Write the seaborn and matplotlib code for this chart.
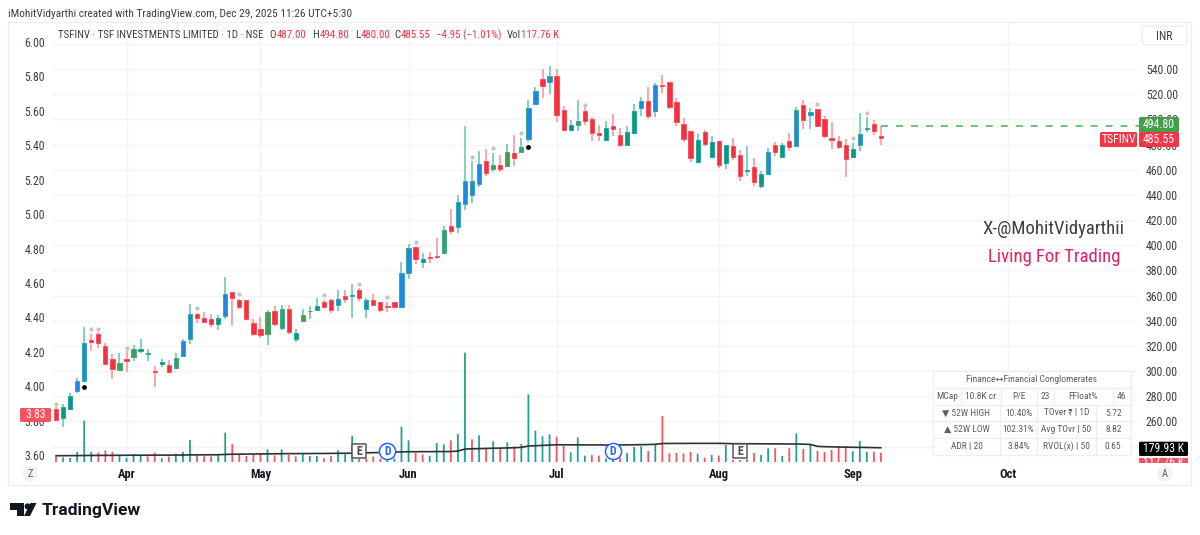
import matplotlib
matplotlib.use("Agg")
import matplotlib.pyplot as plt
from matplotlib import font_manager as fm
from matplotlib.patches import Rectangle, FancyBboxPatch, Circle, Polygon
import numpy as np
import pandas as pd
import seaborn as sns

# Daily session data for TSFINV (INR, volume in thousands)
opens = [269.6,262.4,269.6,284.1,292.3,324.7,329.4,319.9,309.8,300.8,
         309.3,310.9,316.2,313.8,300.0,305.6,304.5,302.4,312.2,325.4,
         345.1,342.4,341.1,337.6,344.0,362.5,356.7,356.2,337.9,333.1,
         329.4,347.4,333.9,349.3,325.4,340.0,347.4,348.8,354.9,356.2,
         352.2,359.6,359.4,364.7,349.6,356.2,354.6,351.4,354.6,351.2,
         377.6,398.3,386.9,390.6,391.4,394.0,415.0,414.7,432.7,439.6,
         448.3,466.6,460.8,463.4,462.9,473.2,473.8,484.4,512.5,531.8,
         529.7,534.4,507.4,491.5,495.8,506.9,500.0,489.1,483.3,495.0,
         487.3,479.3,488.9,509.3,514.3,506.9,527.3,529.7,513.8,496.3,
         490.7,466.1,490.2,470.3,482.5,465.3,479.0,471.7,459.2,462.4,
         447.0,456.3,479.6,469.8,482.5,478.8,511.1,503.4,508.0,500.0,
         484.9,482.8,479.6,470.3,479.6,492.6,496.6,487.0]
highs = [271.7,274.1,282.3,294.2,334.7,329.4,331.3,322.5,313.5,314.1,
         315.9,320.4,325.2,317.2,304.0,309.3,308.8,314.6,325.7,353.5,
         346.4,347.2,345.1,344.5,375.0,362.5,357.5,356.2,341.1,342.7,
         348.5,351.7,352.5,352.5,333.4,349.3,351.7,357.8,356.5,357.0,
         364.4,364.4,369.2,365.7,357.8,361.0,355.1,355.1,354.9,386.9,
         400.7,398.8,394.0,394.6,405.7,415.2,428.7,439.9,495.0,466.6,
         474.8,476.7,473.5,471.7,480.1,487.5,484.9,515.4,526.0,539.7,
         542.4,539.7,510.6,499.5,515.1,510.0,502.1,495.5,498.7,504.0,
         493.4,495.0,511.9,517.7,525.4,529.1,535.2,529.7,517.0,501.1,
         490.7,488.1,491.8,487.0,482.8,479.6,484.9,475.6,478.8,469.3,
         458.7,476.9,481.7,480.9,489.1,510.1,515.4,508.7,508.0,502.6,
         497.9,487.0,484.1,481.2,504.8,501.6,499.2,494.8]
lows = [260.3,255.8,269.0,282.8,291.5,316.2,318.3,304.8,293.4,300.0,
        299.5,308.2,314.6,308.0,287.6,302.9,298.2,301.9,311.9,321.5,
        338.4,338.4,335.3,332.6,341.4,335.8,349.0,340.3,328.1,326.3,
        320.7,335.8,332.6,329.2,323.1,339.8,341.4,348.0,349.8,346.4,
        347.4,354.3,342.4,355.4,342.4,351.7,347.2,346.9,350.6,350.6,
        373.1,385.0,381.9,386.1,388.7,393.5,408.9,409.4,427.9,433.2,
        446.2,455.0,458.1,458.4,462.1,462.9,473.2,482.3,512.2,516.7,
        520.1,498.1,490.7,490.5,491.0,495.8,482.8,482.8,482.8,487.0,
        478.3,479.1,488.3,502.9,500.3,502.1,520.7,508.2,495.0,481.7,
        466.1,465.3,479.1,469.8,461.3,460.8,468.0,451.3,455.0,447.3,
        445.7,456.0,470.9,469.5,475.1,478.3,492.3,492.0,494.4,485.4,
        476.2,476.2,454.2,470.0,475.1,489.7,487.3,480.0]
closes = [261.1,271.4,280.2,292.1,322.0,323.1,322.3,305.6,301.3,306.1,
          308.2,317.2,317.2,314.3,299.2,307.2,299.2,310.3,323.9,345.1,
          342.4,339.2,337.1,341.9,361.2,358.0,350.9,341.1,329.2,328.6,
          347.2,337.4,349.3,331.0,330.0,344.8,348.0,351.7,350.6,348.5,
          357.0,357.5,360.2,358.0,356.2,352.5,348.5,350.9,351.2,377.6,
          397.7,388.7,388.7,389.5,390.9,412.3,411.2,434.3,451.3,451.3,
          464.5,457.3,463.4,460.8,473.8,469.5,478.0,509.0,522.2,526.5,
          534.4,503.2,491.5,495.5,498.7,499.0,488.9,487.8,492.8,492.6,
          479.6,489.7,506.9,514.3,502.6,527.0,526.8,509.8,497.9,484.6,
          469.3,483.8,480.4,482.3,463.7,479.6,470.3,455.0,459.7,450.2,
          456.6,474.3,474.0,479.6,477.7,507.4,499.5,505.6,495.0,486.5,
          483.6,477.7,468.2,476.2,488.6,493.1,490.5,485.55]
# r = falling, t = rising, b = strong rising, g = rising on high relative volume
candle_kinds = list("rttbbrrrrg" "rgttrtrgbb" "rrrtbrrrrr" "grgrtgttrr"
                    "brtrbrrrrb" "brtrrgrbbb" "brgrgrgbbr" "brrtgrrrtr"
                    "rttbrbrrrr" "rtrtrtrrtr" "tbrtrbrbrr" "rrrtbtrr")
volumes_k = [80,59,51,127,523,127,118,148,127,84,
             55,101,84,72,118,46,68,105,127,279,
             84,72,72,93,371,228,93,76,89,97,
             160,84,160,89,72,110,76,76,46,76,
             148,97,329,46,46,68,42,42,46,447,
             274,114,97,80,241,224,274,354,1384,287,
             338,169,262,173,249,198,228,857,397,325,
             350,321,203,122,312,80,89,80,46,25,
             55,114,190,198,139,224,582,110,114,110,
             127,105,55,89,80,215,25,25,34,114,
             89,173,173,76,173,363,165,224,139,127,
             152,194,203,135,266,131,131,117.76]
volume_kinds = list("rtttttrrrttttrrtrtttrrrttrrrr" "rtrtrrtttrrtttrrrrtt"
                    "ttrrtttrttrtrtrtrttttt" "rrtttrrttrtttrt"
                    "rrrrrtrtrtrrtrttrtrtrtrrrrrtttrr")
avg_volume_k = [80,80,81,81,82,83,83,84,84,85,
                85,86,86,86,87,87,87,88,88,90,
                90,91,91,92,96,98,99,100,101,102,
                103,104,105,106,106,107,107,108,108,109,
                110,110,112,114,116,118,120,122,125,128,
                130,130,131,131,132,132,133,138,164,167,
                169,172,174,176,178,181,185,202,206,210,
                214,218,218,217,217,216,216,216,215,215,
                216,216,218,219,221,224,234,235,235,235,
                236,236,236,236,236,234,232,232,231,231,
                230,230,229,229,228,228,226,222,198,194,
                192,190,188,186,185,184,182,179.93]

# Sessions flagged by the two marker studies
star_days = [0,5,6,10,20,26,38,43,47,51,59,62,66,75,108,113,115]
star_prices = [273.8,333.4,333.4,318.3,350.1,361.5,360.4,369.4,358.6,402.8,
               470.3,477.2,488.9,511.4,512.2,484.9,505.3]
dot_days = [4,67]
dot_prices = [287.3,478.3]

month_days = [10,29,50,71,94,113,135]
month_labels = ["Apr","May","Jun","Jul","Aug","Sep","Oct"]
earnings_days = [43,97]
dividend_days = [47,79]
price_ticks = list(range(260,541,20))
ratio_ticks = [3.60,3.80,4.00,4.20,4.40,4.60,4.80,5.00,5.20,5.40,5.60,5.80,6.00]
last_high = 494.80

df = pd.DataFrame({"day":range(len(opens)),"open":opens,"high":highs,"low":lows,
                   "close":closes,"kind":candle_kinds,"volume":volumes_k,
                   "vkind":volume_kinds,"avg":avg_volume_k})

W, H = 1200, 535
sns.set_theme(style="white")
installed = {f.name for f in fm.fontManager.ttflist}
NARROW = "Roboto"
for cand in ["Roboto Condensed", "Liberation Sans Narrow", "Noto Sans Condensed", "Open Sans Condensed"]:
    if cand in installed:
        NARROW = cand
        break
plt.rcParams["font.family"] = [NARROW, "DejaVu Sans"]

INK = "#131722"
GREY = "#3a3f4b"
RED = "#f23645"
TEAL = "#089981"
BLUE = "#1e88e5"
GREEN = "#43a047"
GRID = "#f4f4f5"
AXIS_PT = 8.5

fig = plt.figure(figsize=(W/100, H/100), dpi=100, facecolor="white")
L, R, T, B = 52, 1139, 22, 462
rect = [L/W, 1-B/H, (R-L)/W, (B-T)/H]

# Price panel: x runs in sessions, y in rupees on the right-hand scale
ax = fig.add_axes(rect)
ax.set_xlim(-0.567, 153.6)
ax.set_ylim(227.73, 577.35)
ax.yaxis.tick_right()
ax.set_yticks(price_ticks)
ax.set_yticklabels([f"{v:.2f}" for v in price_ticks])
ax.set_yticks([240,560], minor=True)
ax.set_xticks(month_days)
ax.set_xticklabels(month_labels, fontweight="bold", fontsize=9, color=INK)
ax.tick_params(axis="x", length=0, pad=4.5)
ax.tick_params(axis="y", which="both", length=0, pad=5, labelsize=AXIS_PT, labelcolor=GREY)
ax.grid(True, which="both", color=GRID, lw=1.0)
ax.set_axisbelow(True)
for s in ax.spines.values():
    s.set_visible(False)
ax.patch.set_alpha(0)

# Left-hand ratio scale shares the same panel height
ax_left = fig.add_axes(rect, sharex=ax)
ax_left.set_ylim(3.5593, 6.1163)
ax_left.patch.set_alpha(0)
ax_left.set_yticks(ratio_ticks)
ax_left.set_yticklabels([f"{v:.2f}" for v in ratio_ticks])
ax_left.tick_params(axis="y", length=0, pad=5, labelsize=AXIS_PT, labelcolor=GREY)
ax_left.tick_params(axis="x", bottom=False, labelbottom=False)
ax_left.grid(False)
for s in ax_left.spines.values():
    s.set_visible(False)

# Volume pane overlays the bottom of the chart
ax_vol = fig.add_axes(rect, sharex=ax)
ax_vol.set_ylim(0, 5570)
ax_vol.patch.set_alpha(0)
ax_vol.axis("off")
vol_palette = {"r": "#f7525f", "t": "#1f9f90"}
sns.barplot(data=df, x="day", y="volume", hue="vkind", palette=vol_palette, native_scale=True,
            dodge=False, width=0.25, legend=False, ax=ax_vol, saturation=1, linewidth=0)
for bar in ax_vol.patches:
    bar.set_snap(False)
sns.lineplot(data=df, x="day", y="avg", color="#2f3136", lw=1.2, ax=ax_vol, legend=False, zorder=3)
ax_vol.set_xlim(-0.567, 153.6)
ax_vol.set_ylim(0, 5570)

# Candles: wick first, then the body over it
body_fill = {"r": "#f7303f", "t": TEAL, "b": BLUE, "g": GREEN}
body_edge = {"r": "#f7525f", "t": "#26a69a", "b": "#3aa99f", "g": "#3aa99f"}
wick_col = {"r": "#f9a3ab", "t": "#7fcdc0", "b": "#7fcdc0", "g": "#7fcdc0"}
ax_c = fig.add_axes(rect, sharex=ax)
ax_c.set_ylim(227.73, 577.35)
ax_c.axis("off")
ax_c.patch.set_alpha(0)
ax_c.vlines(df["day"], df["low"], df["high"], colors=[wick_col[k] for k in df["kind"]], lw=1.35, zorder=2)
tops = df[["open","close"]].max(axis=1)
bots = df[["open","close"]].min(axis=1)
ax_c.bar(df["day"], tops-bots, bottom=bots, width=0.6,
         color=[body_fill[k] for k in df["kind"]],
         edgecolor=[body_edge[k] for k in df["kind"]], linewidth=0.7, zorder=3)
sns.scatterplot(x=star_days, y=star_prices, color="#c4c4c4", s=9, marker="o", linewidth=0, ax=ax_c, zorder=4)
sns.scatterplot(x=dot_days, y=dot_prices, color="black", s=12, marker="o", linewidth=0, ax=ax_c, zorder=4)
ax_c.hlines(last_high, len(opens)-1, 153.6, colors="#4caf50", lw=1.1, linestyles=(0,(4.6,5.2)), zorder=2)
ax_c.set_xlim(-0.567, 153.6)

# Earnings and dividend badges along the volume line
for d in earnings_days:
    ax_vol.scatter([d],[139], s=112, marker="s", facecolor="white", edgecolor="#5a5a5a", lw=1.1, zorder=6)
    ax_vol.text(d, 139, "E", ha="center", va="center", fontsize=8.5, fontweight="bold", color="#4a4a4a", zorder=7)
for d in dividend_days:
    ax_vol.scatter([d],[139], s=135, facecolor="white", edgecolor="#2962ff", lw=1.1, zorder=6)
    ax_vol.text(d, 139, "D", ha="center", va="center", fontsize=8.5, fontweight="bold", color="#2962ff", zorder=7)

# Page furniture in pixel coordinates
ui = fig.add_axes([0,0,1,1], zorder=20)
ui.set_xlim(0, W); ui.set_ylim(H, 0); ui.axis("off"); ui.patch.set_alpha(0)

ui.add_patch(Rectangle((8,22), 1183, 463, fc="none", ec="#eeeeee", lw=1))
ui.text(8, 14, "iMohitVidyarthi created with TradingView.com, Dec 29, 2025 11:26 UTC+5:30",
        fontsize=8.2, color=GREY, va="center", ha="left")

HDR = 35
def hdr(x, s, c=GREY):
    ui.text(x, HDR, s, fontsize=7.8, color=c, va="center", ha="left")
hdr(58, "TSFINV · TSF INVESTMENTS LIMITED · 1D · NSE")
for x, s, c in [(269,"O",GREY),(276.5,"487.00",RED),(312.5,"H",GREY),(319.5,"494.80",RED),
                (355,"L",GREY),(361,"480.00",RED),(394.5,"C",GREY),(401,"485.55",RED),
                (436,"−4.95 (−1.01%)",RED),(507,"Vol",GREY),(521,"117.76 K",RED)]:
    hdr(x, s, c)

# INR box
ui.add_patch(FancyBboxPatch((1142,26),45,19,boxstyle="round,pad=0,rounding_size=3",fc="white",ec="#eeeeee",lw=1))
ui.text(1164.5,36,"INR",fontsize=AXIS_PT,color=GREY,ha="center",va="center")

def tag(x0,x1,y0,y1,fc,s,tx=None,ha="center",size=AXIS_PT):
    ui.add_patch(FancyBboxPatch((x0,y0),x1-x0,y1-y0,boxstyle="round,pad=0,rounding_size=1.5",fc=fc,ec="none"))
    ui.text((x0+x1)/2 if tx is None else tx,(y0+y1)/2,s,color="white",fontsize=size,ha=ha,va="center")

tag(20,51,408,422,"#f7525f","3.83")
tag(1139,1179,117,132.5,"#43a047","494.80")
tag(1139,1179,132,147,RED,"485.55")
tag(1100,1137,132,147,RED,"TSFINV")
tag(1139,1188,441.7,456,"black","179.93 K")
clip_rect = Rectangle((1139,457.5),49,5,transform=ui.transData)
ui.add_patch(Rectangle((1139,457.5),49,5,fc="#f7525f",ec="none"))
t = ui.text(1163.5,462.5,"117.76 K",color="white",fontsize=AXIS_PT,ha="center",va="center")
t.set_clip_path(clip_rect)

# Round buttons
for cx, s in [(30,"Z"),(1165,"A")]:
    ui.add_patch(Circle((cx,474),7.8,fc="#f2f2f3",ec="none"))
    ui.text(cx,474,s,fontsize=7.5,color="#5a5e68",ha="center",va="center")

# Watermark text
ui.text(1124,229.5,"X-@MohitVidyarthii",fontsize=13.5,color="#3c3f46",ha="right",va="center")
ui.text(1120,257,"Living For Trading",fontsize=13.4,color="#e91e63",ha="right",va="center")

# Fundamentals table
X0, X1 = 933, 1131
rows = [371.3,388,404.7,421.3,438,454.5]
ui.add_patch(Rectangle((X0,rows[0]),X1-X0,rows[-1]-rows[0],fc="white",ec="#eeeeee",lw=1,alpha=0.92))
for y in rows[1:-1]:
    ui.plot([X0,X1],[y,y],color="#eeeeee",lw=1)
for x in [960.7,1000.7,1037.3,1054,1112.7]:
    ui.plot([x,x],[rows[1],rows[2]],color="#eeeeee",lw=1)
for x in [1000,1037.3,1095.7]:
    ui.plot([x,x],[rows[2],rows[5]],color="#eeeeee",lw=1)
TXT = "#5a5e68"
def cell(x,y,s):
    ui.text(x,y,s,fontsize=6.8,color=TXT,ha="center",va="center")
cell(1031.5,379.8,"Finance↔Financial Conglomerates")
for x,s in [(947,"MCap"),(980.5,"10.8K cr"),(1019,"P/E"),(1045.5,"23"),(1083,"FFloat%"),(1121.5,"46")]:
    cell(x,396.3,s)
for y,a,b,c,d in [(413,"▼ 52W HIGH","10.40%","TOver ₹ | 1D","5.72"),
                  (429.7,"▲ 52W LOW","102.31%","Avg TOvr | 50","8.82"),
                  (446.2,"ADR | 20","3.84%","RVOL(x) | 50","0.65")]:
    cell(966.5,y,a); cell(1018.6,y,b); cell(1066.5,y,c); cell(1113.3,y,d)

# Brand mark
ui.add_patch(Polygon([(10,503),(24,503),(24,516),(17,516),(17,510),(10,510)],fc="#131722",ec="none"))
ui.add_patch(Circle((27.6,506.4),3.0,fc="#131722",ec="none"))
ui.add_patch(Polygon([(30.5,503),(36.5,503),(30,516),(24,516)],fc="#131722",ec="none"))
ui.text(42,510.5,"TradingView",fontsize=12.6,fontweight="bold",color="#131722",ha="left",va="center",
        family=["Roboto","DejaVu Sans"])

fig.savefig("out.png", dpi=100, facecolor="white")
